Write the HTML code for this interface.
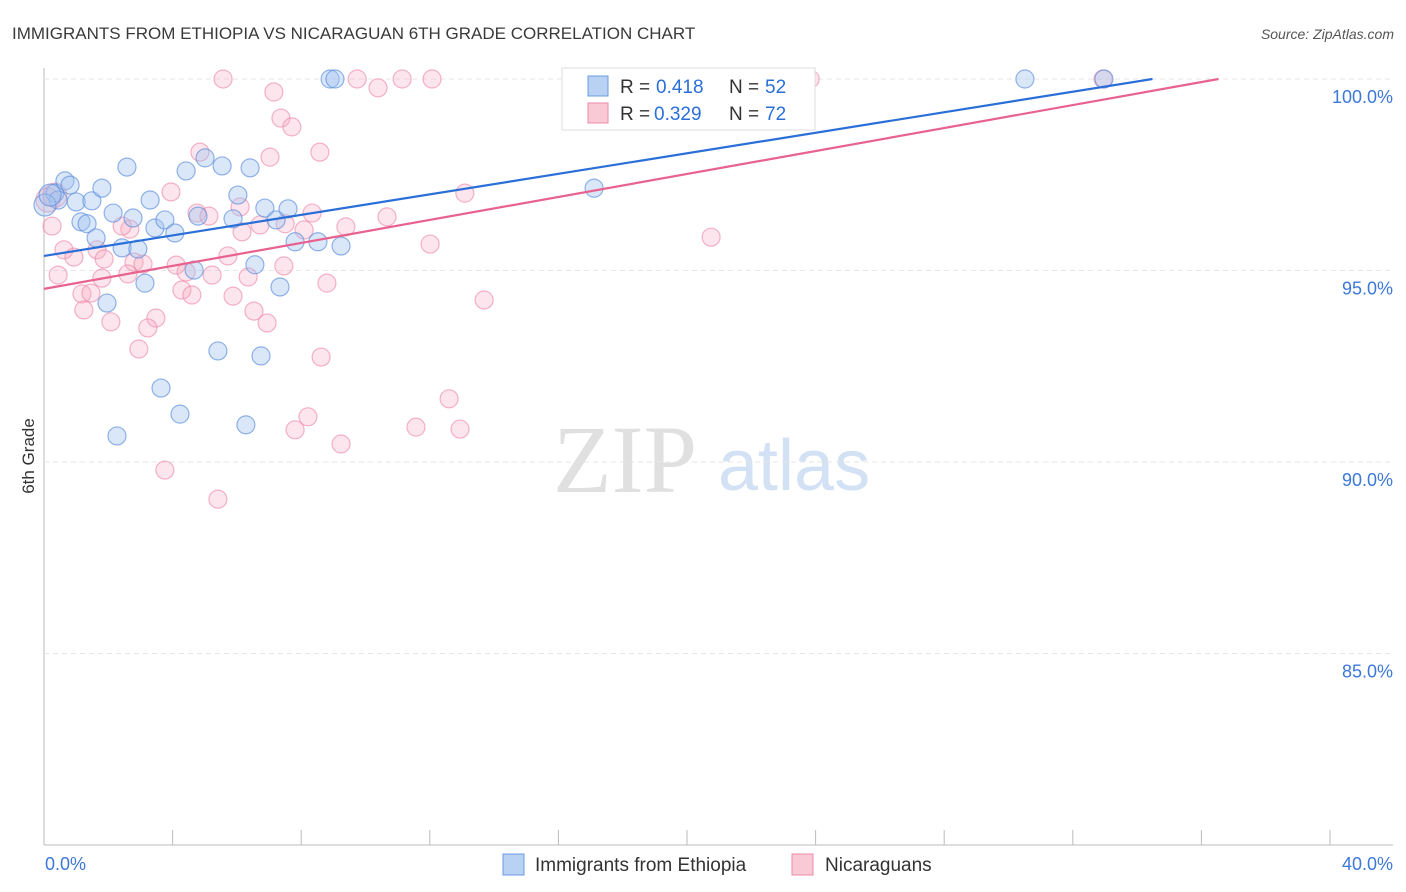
<!DOCTYPE html>
<html><head><meta charset="utf-8"><style>
body{margin:0;background:#fff;font-family:"Liberation Sans",sans-serif}
svg{display:block}
</style></head><body>
<svg id="c" width="1406" height="892">
<text x="12" y="39" font-size="17" fill="#3a3a3a">IMMIGRANTS FROM ETHIOPIA VS NICARAGUAN 6TH GRADE CORRELATION CHART</text>
<text x="1394" y="39" font-size="14" fill="#555" font-style="italic" text-anchor="end">Source: ZipAtlas.com</text>
<text transform="translate(34,456) rotate(-90)" font-size="17" fill="#333" text-anchor="middle">6th Grade</text>
<g><text x="553" y="492" font-size="96" fill="#e0e0e0" font-family="Liberation Serif,serif">ZIP</text><text x="718" y="490" font-size="72" fill="#d3e1f5">atlas</text></g>
<g id="grid"></g><g id="pts"></g><g id="lines"></g>
<g>
<rect x="562" y="68" width="253" height="62" fill="#fff" stroke="#ddd"/>
<rect x="588" y="76" width="20" height="20" fill="#b9d2f3" stroke="#6a9be0"/>
<text x="620" y="93" font-size="19" fill="#333">R =</text><text x="656" y="93" font-size="19" fill="#2a6fd8">0.418</text>
<text x="729" y="93" font-size="19" fill="#333">N =</text><text x="765" y="93" font-size="19" fill="#2a6fd8">52</text>
<rect x="588" y="103" width="20" height="20" fill="#f9c9d6" stroke="#ec8aa8"/>
<text x="620" y="120" font-size="19" fill="#333">R =</text><text x="654" y="120" font-size="19" fill="#2a6fd8">0.329</text>
<text x="729" y="120" font-size="19" fill="#333">N =</text><text x="765" y="120" font-size="19" fill="#2a6fd8">72</text>
</g>
<g>
<rect x="503" y="854" width="21" height="21" fill="#b9d2f3" stroke="#6a9be0"/>
<text x="535" y="871" font-size="19" fill="#333">Immigrants from Ethiopia</text>
<rect x="792" y="854" width="21" height="21" fill="#f9c9d6" stroke="#ec8aa8"/>
<text x="825" y="871" font-size="19" fill="#333">Nicaraguans</text>
</g>
</svg>
<script>
const blueX=[0.34,0.65,0.81,0.44,1.00,1.49,1.80,2.58,1.15,1.34,1.62,2.15,2.77,3.30,2.43,2.92,3.45,3.76,4.07,4.42,4.79,5.01,5.54,6.03,6.41,5.88,6.87,7.22,7.59,7.81,8.52,9.24,6.56,4.67,3.14,1.96,7.34,5.41,6.75,3.64,4.23,2.27,6.28,8.90,9.05,17.11,30.51,32.97,0.03,0.19];
const blueY=[97.02,97.34,97.23,96.84,96.79,96.82,97.15,97.70,96.27,96.22,95.85,96.50,96.37,96.84,95.59,95.56,96.11,96.32,95.98,97.60,96.42,97.94,97.73,96.97,97.68,96.35,96.63,96.32,96.61,95.75,95.75,95.64,95.15,95.01,94.67,94.15,94.57,92.90,92.77,91.93,91.25,90.68,90.97,100,100,97.15,100,100,96.71,96.97];
const pinkX=[5.57,9.74,11.14,12.07,10.39,7.15,7.37,7.71,20.99,23.83,32.94,16.92,4.85,7.03,8.58,3.95,13.09,4.76,5.13,6.10,8.34,9.39,10.67,6.72,6.16,8.09,7.50,2.67,2.43,0.25,0.62,0.93,1.65,1.87,2.80,3.08,4.11,5.23,4.42,5.72,7.46,6.35,0.44,1.80,2.61,1.18,1.46,1.24,4.29,4.60,5.88,8.80,2.08,3.48,3.23,6.53,6.94,2.95,8.62,12.01,13.69,20.75,12.60,8.21,7.81,11.57,12.94,9.24,3.76,5.41,0.12,0.34];
const pinkY=[100,100,100,100,99.77,99.66,98.98,98.75,100,100,100,100,98.09,97.96,98.09,97.05,97.02,96.50,96.42,96.66,96.50,96.14,96.40,96.19,96.01,96.06,96.22,96.08,96.16,96.16,95.54,95.35,95.54,95.30,95.22,95.17,95.14,94.88,94.96,95.38,95.12,94.83,94.88,94.80,94.91,94.39,94.41,93.97,94.49,94.36,94.33,94.67,93.66,93.76,93.50,93.94,93.63,92.95,92.74,95.69,94.23,95.87,91.65,91.18,90.84,90.91,90.86,90.47,89.79,89.03,96.84,96.97];
const blueTrend=[95.38,0.134];
const pinkTrend=[94.52,0.150];
const yTicks=[100,95,90,85];
const xTickVals=[0,4,8,12,16,20,24,28,32,36,40];
const NS="http://www.w3.org/2000/svg";
const X=v=>44+v/40*1286, Y=v=>79+(100-v)/5*191.5;
function mk(t,a,p){const e=document.createElementNS(NS,t);for(const k in a)e.setAttribute(k,a[k]);p.appendChild(e);return e;}
const g=document.getElementById('grid');
let ax=mk('line',{x1:44,y1:68,x2:44,y2:845,stroke:'#bbb'},g);


let bx=mk('line',{x1:44,y1:845,x2:1393,y2:845,stroke:'#bbb'},g);


yTicks.forEach(v=>{
 const l=mk('line',{x1:44,y1:Y(v),x2:1393,y2:Y(v),stroke:'#e6e6e6','stroke-dasharray':'5,4'},g);
 
 
 const t=mk('text',{x:1393,y:Y(v)+24,'font-size':18,fill:'#3c78d8','text-anchor':'end'},g);
 t.textContent=v.toFixed(1)+'%';
 
 
});
xTickVals.forEach(v=>{
 const l=mk('line',{x1:X(v),y1:830,x2:X(v),y2:845,stroke:'#bbb'},g);
 
 
});
[[0,'0.0%','start',45],[40,'40.0%','end',1393]].forEach(([v,s,a,px])=>{
 const t=mk('text',{x:px,y:870,'font-size':18,fill:'#3c78d8','text-anchor':a},g);
 t.textContent=s;
 
 
});
const p=document.getElementById('pts');
pinkX.forEach((v,i)=>{
 const c=mk('circle',{cx:X(v),cy:Y(pinkY[i]),r:i>=70?12:9,fill:'rgba(245,170,192,0.3)',stroke:'rgba(236,130,165,0.6)','stroke-width':1.2},p);
 
 
});
blueX.forEach((v,i)=>{
 const c=mk('circle',{cx:X(v),cy:Y(blueY[i]),r:i>=48?11:9,fill:'rgba(160,196,240,0.4)',stroke:'rgba(90,140,220,0.65)','stroke-width':1.2},p);
 
 
});
const L=document.getElementById('lines');
[[blueTrend,'#2a6fd8','trend-line-ethiopia'],[pinkTrend,'#e8628e','trend-line-nicaraguans']].forEach(([t,col,n])=>{
 const xe=Math.min(40,(100-t[0])/t[1]);
 const l=mk('line',{x1:X(0),y1:Y(t[0]),x2:X(xe),y2:Y(t[0]+t[1]*xe),stroke:col,'stroke-width':2.2},L);
 
 
});
</script>
</body></html>
